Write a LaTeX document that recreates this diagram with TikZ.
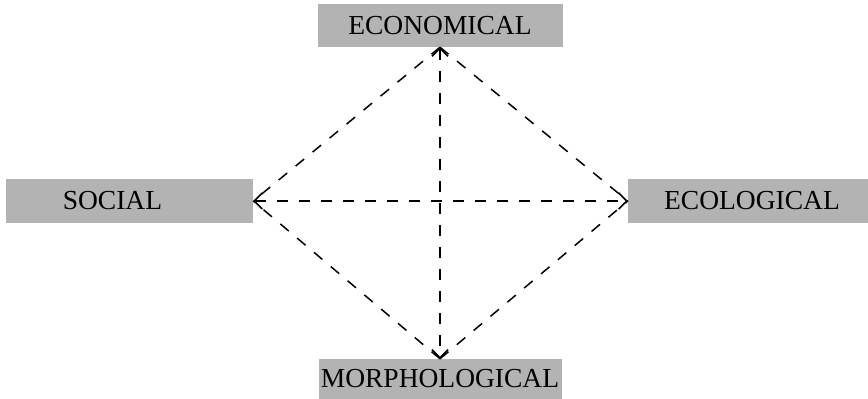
\documentclass[tikz,border=0pt]{standalone}
\usepackage{fontspec}
\setmainfont{Liberation Serif}
\usetikzlibrary{arrows.meta}
\definecolor{boxgray}{RGB}{179,179,179}
\begin{document}
\begin{tikzpicture}[x=1pt,y=-1pt,
  box/.style={fill=boxgray,draw=none,inner sep=0pt,font=\fontsize{27.5}{30}\selectfont,text=black},
  link/.style={draw=black,line width=1.5pt,dash pattern=on 11pt off 11pt},
  both/.style={{Straight Barb[length=8pt,width=16pt,line width=1.5pt]}-{Straight Barb[length=8pt,width=16pt,line width=1.5pt]}}]
\useasboundingbox (0,0) rectangle (868,399);
\node[box,minimum width=245pt,minimum height=43pt] (eco) at (440,25.5) {ECONOMICAL};
\node[box,minimum width=247pt,minimum height=44pt] (soc) at (129.5,201) {SOCIAL\rule{34pt}{0pt}};
\node[box,minimum width=240pt,minimum height=44pt] (ecl) at (748,201) {\hspace{8pt}ECOLOGICAL};
\node[box,minimum width=243pt,minimum height=40pt] (mor) at (440,379) {MORPHOLOGICAL};
\draw[link,both] (eco.south) -- (mor.north);
\draw[link,both] (soc.east) -- (ecl.west);
\draw[link] (eco.south) -- (soc.east);
\draw[link] (eco.south) -- (ecl.west);
\draw[link] (mor.north) -- (soc.east);
\draw[link] (mor.north) -- (ecl.west);
\end{tikzpicture}
\end{document}
